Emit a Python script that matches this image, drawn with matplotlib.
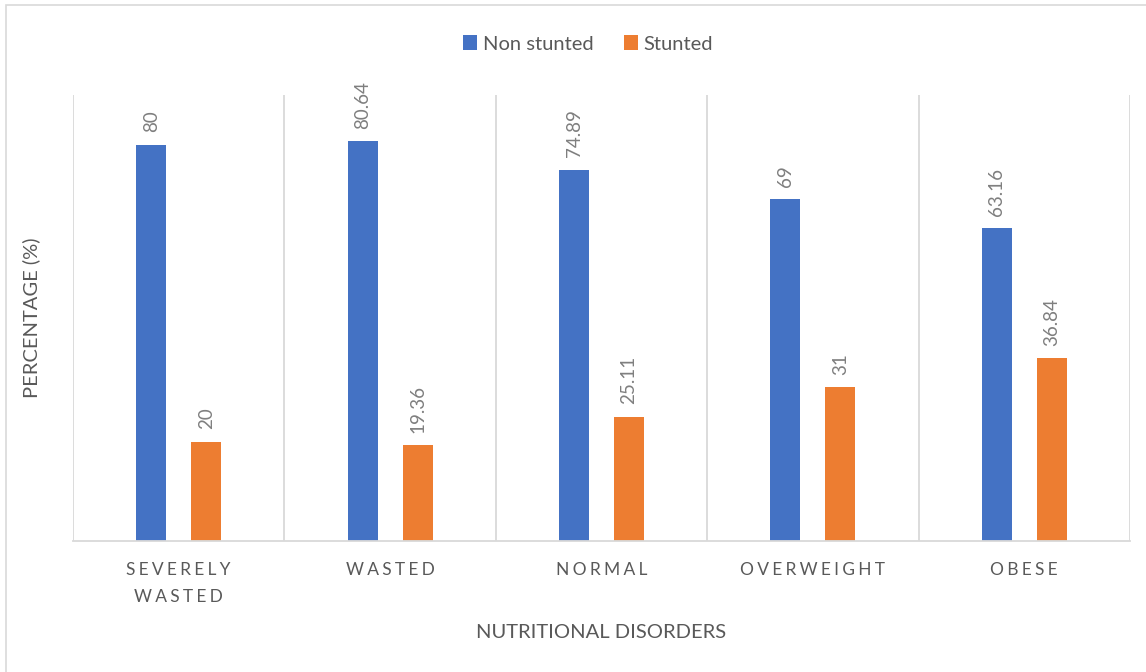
import matplotlib
matplotlib.use("Agg")
import matplotlib.pyplot as plt
import numpy as np
from matplotlib.patches import Rectangle

categories = ["SEVERELY\nWASTED", "WASTED", "NORMAL", "OVERWEIGHT", "OBESE"]
non_stunted = [80, 80.64, 74.89, 69, 63.16]
stunted = [20, 19.36, 25.11, 31, 36.84]
series_names = ["Non stunted", "Stunted"]

BLUE = "#4472C4"
ORANGE = "#ED7D31"
GRID = "#D9D9D9"
TEXT = "#595959"

plt.rcParams["font.family"] = ["Lato", "DejaVu Sans"]


def spaced(label):
    # widen letter spacing with thin spaces, line by line
    return "\n".join("\u2009\u200a".join(line) for line in label.split("\n"))


fig = plt.figure(figsize=(11.46, 6.72), dpi=100)
fig.patches.append(Rectangle((6 / 1146, -0.1), 1.2, (672 - 5) / 672 + 0.1,
                             transform=fig.transFigure, fill=False,
                             edgecolor=GRID, linewidth=1.2))

ax = fig.add_axes([73 / 1146, (672 - 541) / 672, (1130 - 73) / 1146, (541 - 95) / 672])

x = np.arange(len(categories))
off = 0.13
w = 0.142
b1 = ax.bar(x - off, non_stunted, w, color=BLUE, label=series_names[0])
b2 = ax.bar(x + off, stunted, w, color=ORANGE, label=series_names[1])

for bars, vals in ((b1, non_stunted), (b2, stunted)):
    for rect, v in zip(bars, vals):
        ax.annotate(f"{v:g}", (rect.get_x() + rect.get_width() / 2, v),
                    xytext=(0, 9), textcoords="offset points",
                    rotation=90, ha="center", va="bottom",
                    fontsize=13.5, color="#7F7F7F")

ax.set_xlim(-0.5, len(categories) - 0.5)
ax.set_ylim(0, 90)
ax.set_yticks([])
ax.set_xticks(x)
ax.set_xticklabels([spaced(c) for c in categories], fontsize=12.5,
                   color=TEXT, linespacing=1.85)
ax.tick_params(axis="x", length=0, pad=15)

for b in np.arange(-0.5, len(categories) + 0.5, 1.0):
    ax.axvline(b, color=GRID, linewidth=1.3, zorder=0)

for side in ("top", "right", "left"):
    ax.spines[side].set_visible(False)
ax.spines["bottom"].set_color(GRID)
ax.spines["bottom"].set_linewidth(1.3)

ax.set_xlabel("NUTRITIONAL DISORDERS", fontsize=14.5, color=TEXT, labelpad=14)
ax.set_ylabel("PERCENTAGE (%)", fontsize=14.5, color=TEXT, labelpad=24)

fig.legend(handles=[b1, b2], labels=series_names, loc="center",
           bbox_to_anchor=(588 / 1146, 1 - 44 / 672), ncol=2, frameon=False,
           fontsize=14.5, handlelength=0.7, handleheight=0.7,
           handletextpad=0.3, columnspacing=1.5, labelcolor=TEXT)

fig.savefig("out.png", dpi=100, facecolor="white")
